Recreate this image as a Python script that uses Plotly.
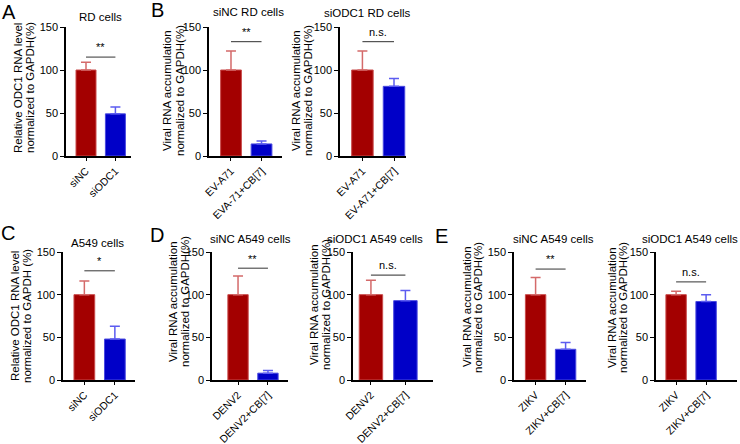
import plotly.graph_objects as go

# ---- data ----
panel_titles = ["RD cells", "siNC RD cells", "siODC1 RD cells",
                "A549 cells", "siNC A549 cells", "siODC1 A549 cells",
                "siNC A549 cells", "siODC1 A549 cells"]
cats_A = ["siNC", "siODC1"]
cats_B = ["EV-A71", "EVA-71+CB[7]"]
cats_B2 = ["EV-A71", "EV-A71+CB[7]"]
cats_D = ["DENV2", "DENV2+CB[7]"]
cats_E = ["ZIKV", "ZIKV+CB[7]"]
categories = [cats_A, cats_B, cats_B2, cats_A, cats_D, cats_D, cats_E, cats_E]
means = [[100, 49], [100, 14], [100, 81], [100, 48],
         [100, 8], [100, 93], [100, 36], [100, 92]]
errors = [[9, 8], [22, 3.5], [22, 9], [16, 15],
          [22, 3], [17, 12], [20, 8], [4, 8]]
sig_labels = ["**", "**", "n.s.", "*", "**", "n.s.", "**", "n.s."]
sig_y = [115, 133, 133, 128, 131, 123, 130, 115]
y_titles = [("Relative ODC1 RNA level", "normalized to GAPDH(%)"),
            ("Viral RNA accumulation", "normalized to GAPDH(%)"),
            ("Viral RNA accumulation", "normalized to GAPDH(%)"),
            ("Relative ODC1 RNA level", "normalized to GAPDH (%)"),
            ("Viral RNA accumulation", "normalized to GAPDH(%)"),
            ("Viral RNA accumulation", "normalized to GAPDH(%)"),
            ("Viral RNA accumulation", "normalized to GAPDH(%)"),
            ("Viral RNA accumulation", "normalized to GAPDH(%)")]
y_ticks = [0, 50, 100, 150]
panel_letters = ["A", "B", "C", "D", "E"]

# ---- layout geometry (pixels) ----
W, H = 740, 444
FONT = "Liberation Sans, Arial, sans-serif"
axis_px = [(66, 131), (209, 282), (340, 406), (63, 135),
           (212, 288), (353, 433), (514, 586), (656, 737)]
xranges = [(-0.68, 1.53), (-0.72, 1.67), (-0.71, 1.38), (-0.70, 1.66),
           (-0.87, 1.67), (-0.52, 1.80), (-0.72, 1.68), (-0.67, 2.03)]
row_px = [(27, 156), (27, 156), (27, 156), (252, 380),
          (252, 380), (252, 380), (252, 380), (252, 380)]
title_pos = [(100, 17), (248, 12), (367, 13), (97, 243),
             (250, 239), (375, 239), (553, 239), (690, 239)]
ytitle_x = [(18, 30), (167, 180), (296, 308), (15, 27),
            (173, 185), (314, 326), (467, 478), (612, 623)]
ytitle_y = [88, 91, 91, 316, 302, 305, 307, 308]
letter_pos = [(9, 12), (157, 10), (8, 233), (157, 235), (441, 236)]

RED_FILL, RED_LINE, RED_ERR = "#a30000", "#c94a4a", "#d46a6a"
BLU_FILL, BLU_LINE, BLU_ERR = "#0000c8", "#4a4ae0", "#5c5cf0"

fig = go.Figure()
layout = dict(width=W, height=H, margin=dict(l=0, r=0, t=0, b=0),
              paper_bgcolor="white", plot_bgcolor="white",
              showlegend=False, font=dict(family=FONT, color="black"))
shapes, annotations = [], []

for i in range(8):
    n = i + 1
    xa, ya = ("x" if n == 1 else f"x{n}"), ("y" if n == 1 else f"y{n}")
    for j, cat in enumerate(categories[i]):
        fill, line, err = (RED_FILL, RED_LINE, RED_ERR) if j == 0 else (BLU_FILL, BLU_LINE, BLU_ERR)
        fig.add_trace(go.Bar(
            x=[cat], y=[means[i][j]], xaxis=xa, yaxis=ya, width=0.68,
            marker=dict(color=fill, line=dict(color=line, width=1)),
            error_y=dict(type="data", symmetric=False, array=[errors[i][j]],
                         arrayminus=[0], color=err, thickness=1.5, width=5),
        ))
    x0, x1 = axis_px[i]
    y0, y1 = row_px[i]
    layout["xaxis" if n == 1 else f"xaxis{n}"] = dict(
        domain=[x0 / W, x1 / W], anchor=ya, type="category",
        categoryorder="array", categoryarray=categories[i],
        range=list(xranges[i]), showline=True, linecolor="black", linewidth=1.5,
        ticks="outside", ticklen=3, tickwidth=1.2, tickcolor="black",
        tickangle=-45, tickfont=dict(size=10.5, family=FONT), showgrid=False,
        zeroline=False, fixedrange=True, automargin=False)
    layout["yaxis" if n == 1 else f"yaxis{n}"] = dict(
        domain=[1 - y1 / H, 1 - y0 / H], anchor=xa, range=[0, 150],
        tickvals=y_ticks, showline=True, linecolor="black", linewidth=1.5,
        ticks="outside", ticklen=4, tickwidth=1.2, tickcolor="black",
        tickfont=dict(size=11, family=FONT), showgrid=False, zeroline=False,
        fixedrange=True, automargin=False)
    # significance line and label
    shapes.append(dict(type="line", xref=xa, yref=ya, x0=0, x1=1,
                       y0=sig_y[i], y1=sig_y[i],
                       line=dict(color="#555555", width=1.2)))
    annotations.append(dict(xref=xa, yref=ya, x=0.5, y=sig_y[i] + 2,
                            text=sig_labels[i], showarrow=False,
                            xanchor="center", yanchor="bottom",
                            font=dict(size=11, family=FONT)))
    # panel title
    tx, ty = title_pos[i]
    annotations.append(dict(xref="paper", yref="paper", x=tx / W, y=1 - ty / H,
                            text=panel_titles[i], showarrow=False,
                            xanchor="center", yanchor="middle",
                            font=dict(size=11.5, family=FONT)))
    # y-axis title, two lines
    for k in range(2):
        annotations.append(dict(xref="paper", yref="paper",
                                x=ytitle_x[i][k] / W, y=1 - ytitle_y[i] / H,
                                text=y_titles[i][k], showarrow=False,
                                textangle=-90, xanchor="center", yanchor="middle",
                                font=dict(size=11.5, family=FONT)))

for k, letter in enumerate(panel_letters):
    lx, ly = letter_pos[k]
    annotations.append(dict(xref="paper", yref="paper", x=lx / W, y=1 - ly / H,
                            text=letter, showarrow=False,
                            xanchor="center", yanchor="middle",
                            font=dict(size=20, family=FONT)))

layout["shapes"] = shapes
layout["annotations"] = annotations
fig.update_layout(**layout)
fig.write_html("out.html", config={"displayModeBar": False},
               post_script="document.body.style.margin='0';document.body.style.padding='0';")
